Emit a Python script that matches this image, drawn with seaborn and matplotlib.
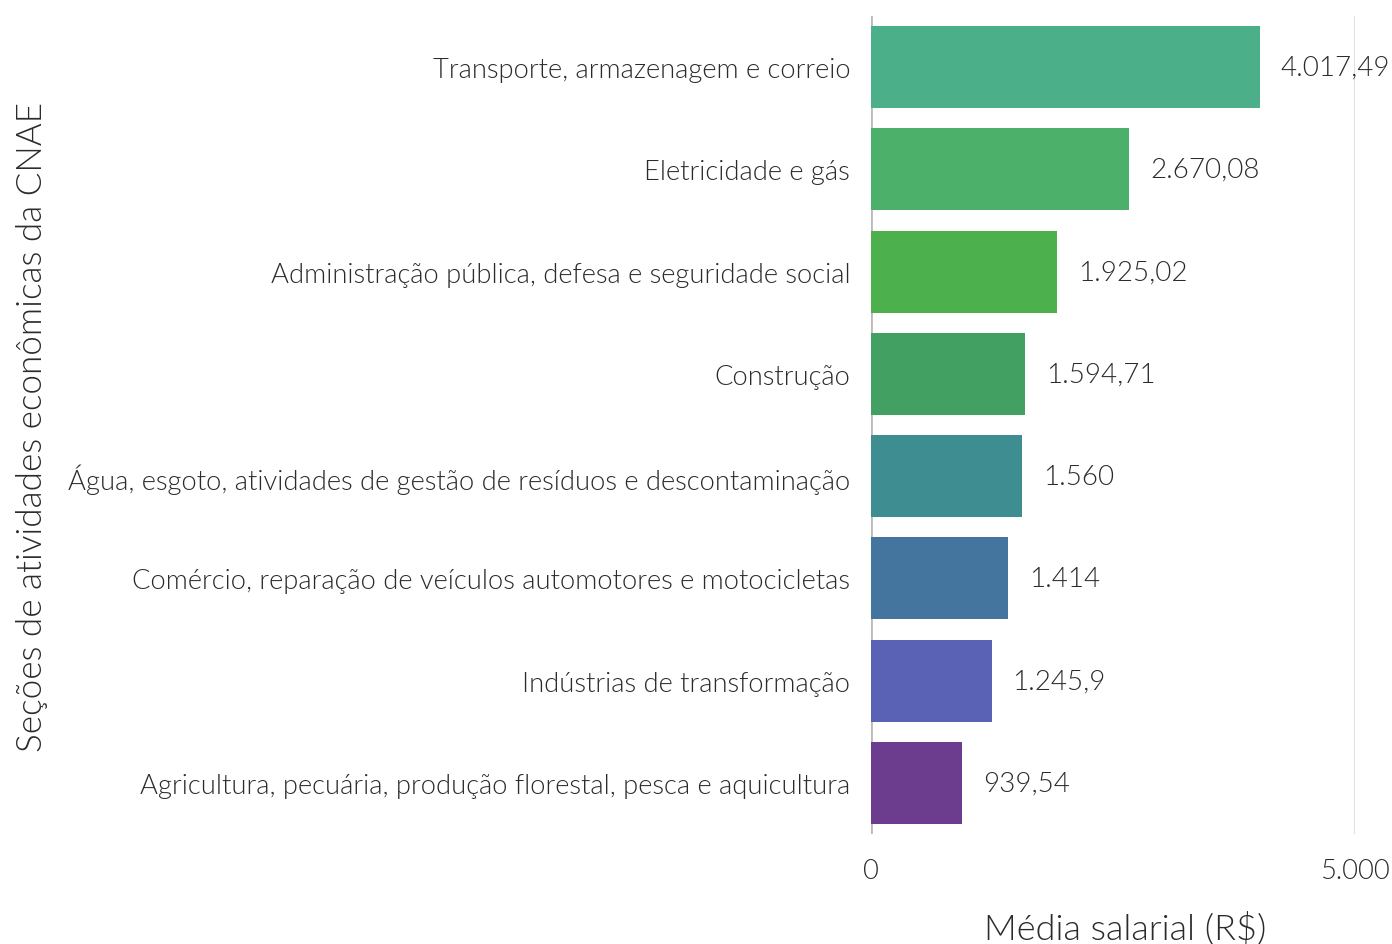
import matplotlib
matplotlib.use("Agg")
import matplotlib.pyplot as plt
import seaborn as sns
import pandas as pd

categories = [
    "Transporte, armazenagem e correio",
    "Eletricidade e gás",
    "Administração pública, defesa e seguridade social",
    "Construção",
    "Água, esgoto, atividades de gestão de resíduos e descontaminação",
    "Comércio, reparação de veículos automotores e motocicletas",
    "Indústrias de transformação",
    "Agricultura, pecuária, produção florestal, pesca e aquicultura",
]
values = [4017.49, 2670.08, 1925.02, 1594.71, 1560, 1414, 1245.9, 939.54]
colors = ["#4BB08A", "#4CAF6A", "#4CB04C", "#43A063", "#3E8E91", "#44759F", "#5A62B5", "#6C3D8E"]
x_ticks = [0, 5000]
x_tick_labels = ["0", "5.000"]

sns.set_theme(style="white")
plt.rcParams['font.family'] = ['Lato', 'DejaVu Sans']
plt.rcParams['font.weight'] = 300

TXT = "#2b2b2b"
df = pd.DataFrame({"cat": categories, "val": values})

fig = plt.figure(figsize=(13.92, 9.45), dpi=100)
ax = fig.add_axes([871/1392, 1-835/945, (1355-871)/1392, (835-17)/945])

sns.barplot(data=df, y="cat", x="val", hue="cat", palette=colors, order=categories,
            hue_order=categories, orient="h", width=0.8, saturation=1, legend=False,
            linewidth=0, edgecolor="none", ax=ax)

ax.set_xlim(0, 5000)
ax.set_ylim(7.5, -0.5)
for s in ax.spines.values():
    s.set_visible(False)
ax.axvline(0, color="#BBBBBB", lw=2, zorder=0)
ax.axvline(5000, color="#DDDDDD", lw=2, zorder=0)

def fmt(v):
    s = f"{v:,.2f}"
    intpart, dec = s.split(".")
    intpart = intpart.replace(",", ".")
    dec = dec.rstrip("0")
    return intpart + ("," + dec if dec else "")

for i, v in enumerate(values):
    ax.annotate(fmt(v), xy=(v, i), xytext=(15, 0), textcoords="offset points",
                ha="left", va="center", fontsize=20, color=TXT,
                fontweight=300, annotation_clip=False, clip_on=False)

ax.set_xticks(x_ticks)
ax.set_xticklabels(x_tick_labels)
ax.tick_params(axis="x", length=0, pad=17, labelsize=19.7, labelcolor=TXT)
ax.tick_params(axis="y", length=0, pad=15, labelsize=19.7, labelcolor=TXT)
for lab in ax.get_xticklabels() + ax.get_yticklabels():
    lab.set_fontweight(300)

ax.set_xlabel("Média salarial (R$)", fontsize=26, color=TXT, fontweight=300)
ax.xaxis.set_label_coords(1125/484 - 871/484, -(928-835)/818)
ax.xaxis.label.set_va("center")
ax.set_ylabel("Seções de atividades econômicas da CNAE", fontsize=25.2, color=TXT, fontweight=300)
ax.yaxis.set_label_coords((32-871)/484, (835-427)/818)
ax.yaxis.label.set_va("center")

fig.savefig("out.png", dpi=100)
